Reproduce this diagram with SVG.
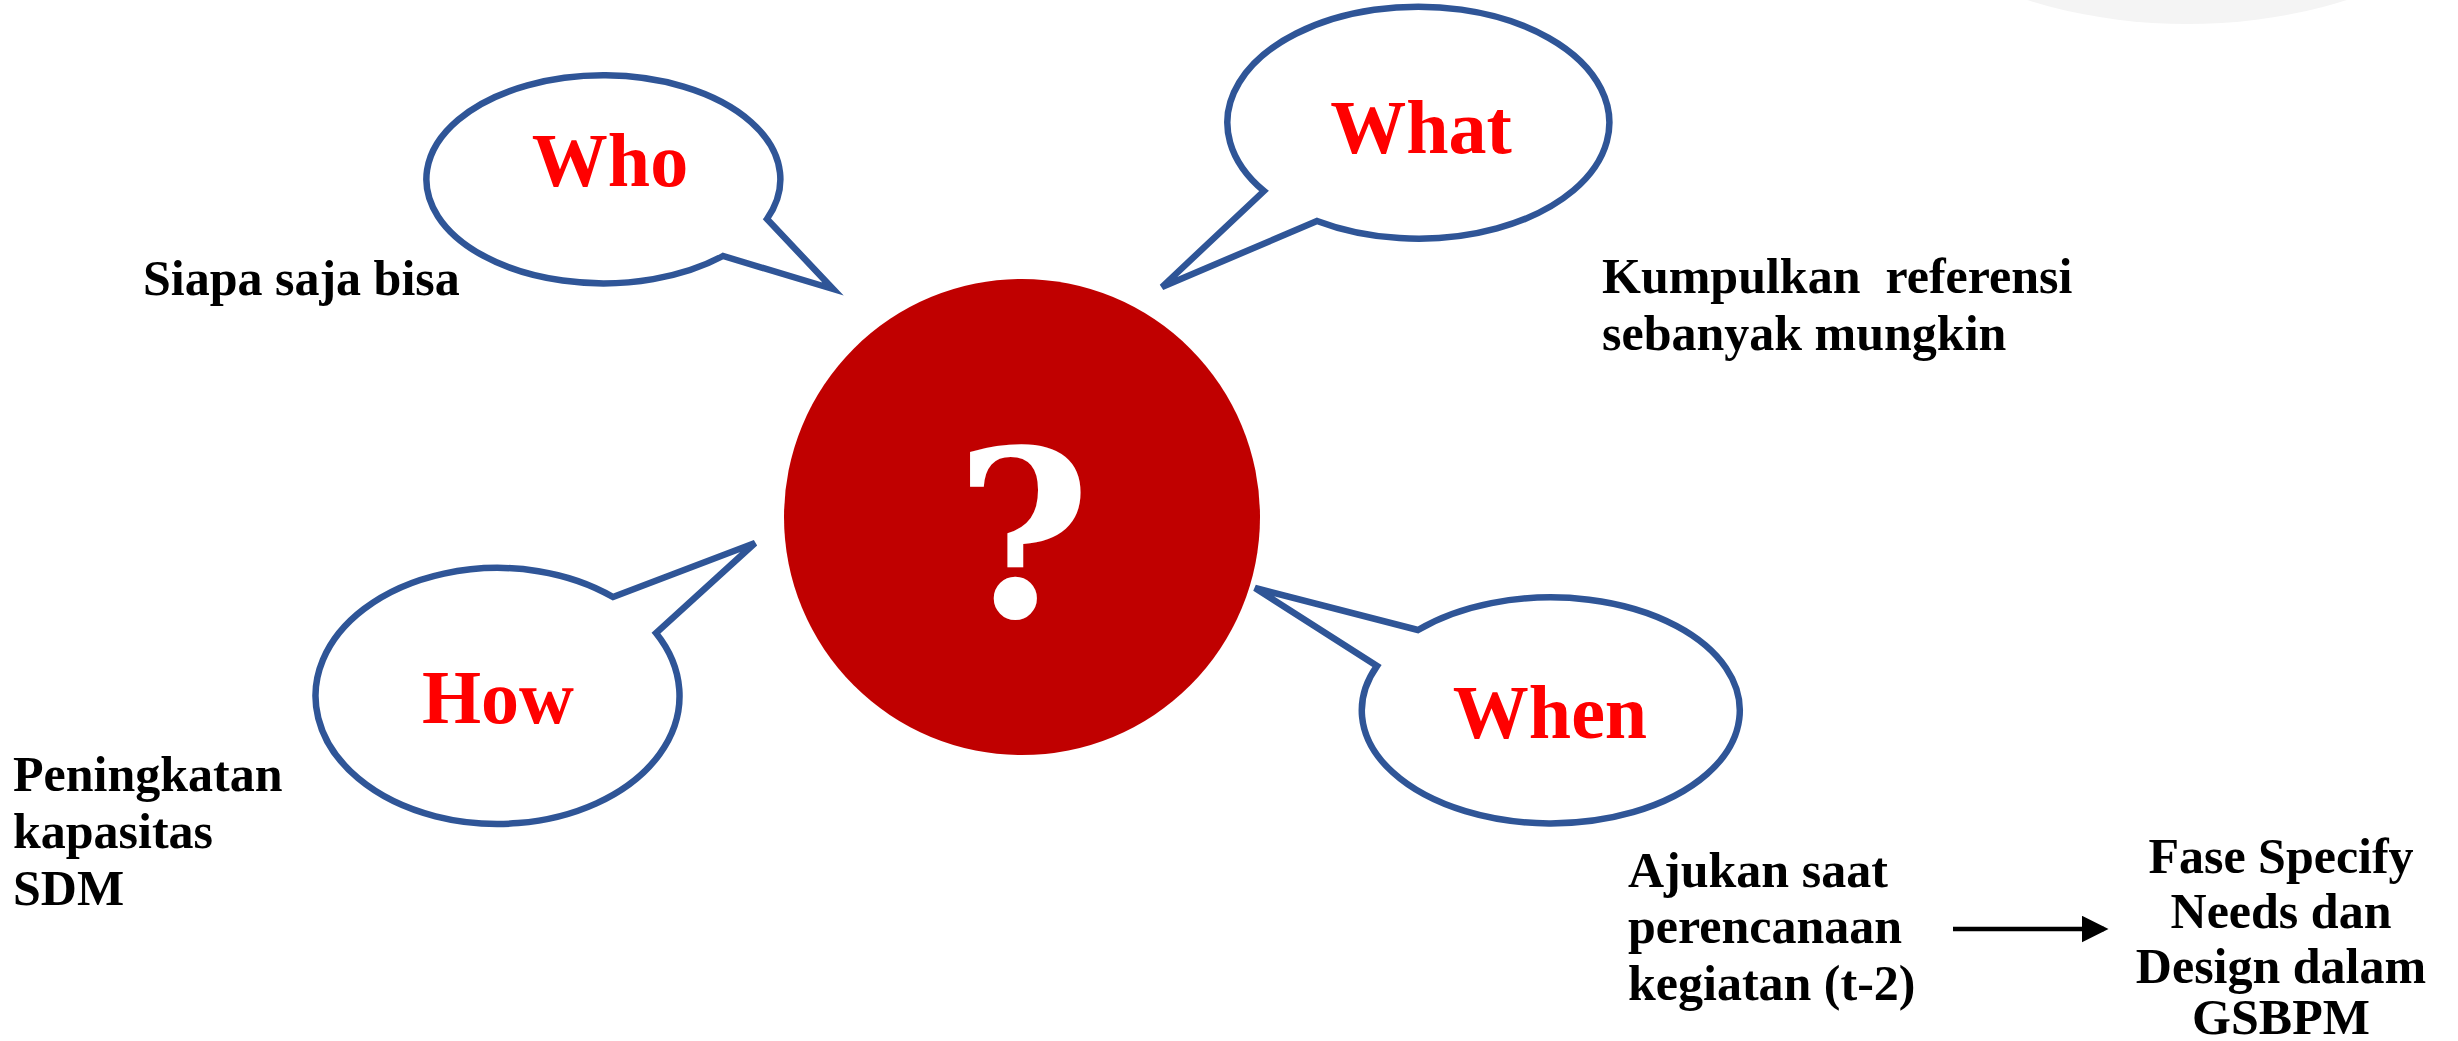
<svg xmlns="http://www.w3.org/2000/svg" width="2458" height="1041" viewBox="0 0 2458 1041">
<defs>
<style>
.bub{fill:#ffffff;stroke:#2F5597;stroke-width:6.5;stroke-linejoin:miter}
.q{font-family:"Liberation Serif",serif;font-weight:bold;font-size:76px;fill:#FF0000;text-anchor:middle}
.t{font-family:"Liberation Serif",serif;font-weight:bold;font-size:50px;fill:#000000}
.tc{text-anchor:middle}
</style>
<marker id="ah" markerWidth="6" markerHeight="6" refX="5" refY="3" orient="auto" markerUnits="strokeWidth">
<path d="M0,0 L6,3 L0,6 Z" fill="#000"/>
</marker>
</defs>
<rect width="2458" height="1041" fill="#ffffff"/>
<ellipse cx="2187" cy="-200" rx="355" ry="224" fill="#f4f4f4"/>

<g id="center">
<circle cx="1022" cy="517" r="238" fill="#C00000"/>
<text x="1023" y="617" text-anchor="middle" style="font-family:'DejaVu Serif',serif;font-weight:bold;font-size:232px;fill:#ffffff">?</text>
</g>

<g id="who">
<path class="bub" d="M767 219 L833 289 L723 256 A177 104 0 1 1 767 219 Z"/>
<text class="q" x="610" y="186">Who</text>
</g>

<g id="what">
<path class="bub" d="M1317 221 L1162 287 L1264 191 A191 116 0 1 1 1317 221 Z"/>
<text class="q" x="1421" y="153">What</text>
</g>

<g id="how">
<path class="bub" d="M613 597 L755 543 L656 633 A182 128 0 1 1 613 597 Z"/>
<text class="q" x="498" y="723">How</text>
</g>

<g id="when">
<path class="bub" d="M1418 630 L1255 588 L1377 666 A189 113 0 1 0 1418 630 Z"/>
<text class="q" x="1550" y="738">When</text>
</g>

<g id="who-text">
<text class="t" x="143" y="295">Siapa saja bisa</text>
</g>

<g id="what-text">
<text class="t" x="1602" y="293" xml:space="preserve">Kumpulkan  referensi</text>
<text class="t" x="1602" y="350">sebanyak mungkin</text>
</g>

<g id="how-text">
<text class="t" x="13" y="791">Peningkatan</text>
<text class="t" x="13" y="848">kapasitas</text>
<text class="t" x="13" y="905">SDM</text>
</g>

<g id="when-text">
<text class="t" x="1628" y="887">Ajukan saat</text>
<text class="t" x="1628" y="943">perencanaan</text>
<text class="t" x="1628" y="1000">kegiatan (t-2)</text>
</g>

<g id="gsbpm-text">
<text class="t tc" x="2281" y="873">Fase Specify</text>
<text class="t tc" x="2281" y="928">Needs dan</text>
<text class="t tc" x="2281" y="983">Design dalam</text>
<text class="t tc" x="2281" y="1034">GSBPM</text>
</g>

<g id="connectors">
<line x1="1953" y1="929" x2="2104" y2="929" stroke="#000" stroke-width="4.5" marker-end="url(#ah)"/>
</g>
</svg>
